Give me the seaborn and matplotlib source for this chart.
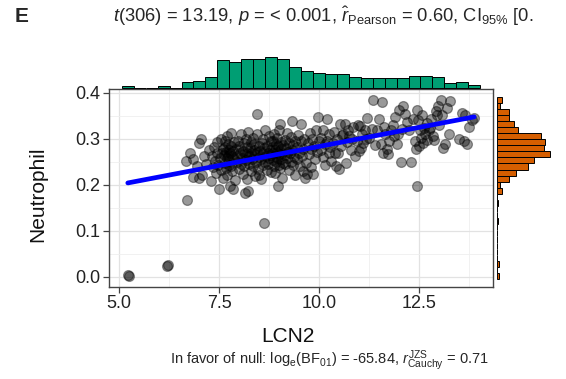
import numpy as np
import pandas as pd
import matplotlib
matplotlib.use("Agg")
import matplotlib.pyplot as plt
import seaborn as sns

# values, grouped roughly by x-bin
lcn2 = [
    5.22, 5.24,
    6.20, 6.22,
    6.68, 6.70,
    6.78, 6.84, 6.86, 6.95, 6.99, 7.00,
    7.05, 7.07, 7.12, 7.18, 7.24, 7.30,
    7.33, 7.35, 7.38, 7.40, 7.42, 7.44, 7.46, 7.48, 7.50, 7.52, 7.54, 7.56, 7.58, 7.60, 7.61,
    7.63, 7.64, 7.65, 7.66, 7.67, 7.68, 7.69, 7.70, 7.71, 7.72, 7.73, 7.74, 7.75, 7.76, 7.77,
    7.78, 7.79, 7.80, 7.81, 7.82, 7.83, 7.84, 7.86, 7.87, 7.88, 7.90,
    7.93, 7.95, 7.96, 7.98, 8.00, 8.01, 8.03, 8.04, 8.06, 8.07, 8.09, 8.10, 8.12, 8.13, 8.15,
    8.16, 8.17, 8.18, 8.19, 8.20, 8.21, 8.22,
    8.23, 8.24, 8.26, 8.27, 8.29, 8.30, 8.31, 8.33, 8.34, 8.36, 8.37, 8.38, 8.40, 8.41, 8.43,
    8.44, 8.45, 8.46, 8.48, 8.49, 8.50, 8.51,
    8.53, 8.54, 8.56, 8.57, 8.59, 8.60, 8.61, 8.62, 8.63, 8.65, 8.66, 8.68, 8.69, 8.70, 8.72,
    8.73, 8.75, 8.76, 8.77, 8.79, 8.80, 8.81,
    8.83, 8.84, 8.85, 8.86, 8.87, 8.88, 8.89, 8.90, 8.91, 8.92, 8.93, 8.94, 8.95, 8.96, 8.97,
    8.98, 8.99, 9.00, 9.01, 9.02, 9.03, 9.04, 9.05, 9.06, 9.07, 9.08, 9.10, 9.11,
    9.13, 9.14, 9.16, 9.18, 9.19, 9.21, 9.22, 9.24, 9.26, 9.27, 9.29, 9.30, 9.32, 9.33, 9.35,
    9.36, 9.38, 9.40, 9.41,
    9.44, 9.46, 9.48, 9.50, 9.52, 9.54, 9.56, 9.57, 9.59, 9.61, 9.63, 9.65, 9.68, 9.70,
    9.73, 9.75, 9.77, 9.79, 9.81, 9.83, 9.85, 9.87, 9.90, 9.93, 9.96, 9.97, 10.00,
    10.04, 10.06, 10.09, 10.11, 10.14, 10.16, 10.19, 10.21, 10.24, 10.26, 10.28, 10.30,
    10.34, 10.37, 10.40, 10.43, 10.45, 10.47, 10.50, 10.53, 10.56, 10.58, 10.60,
    10.64, 10.67, 10.70, 10.73, 10.76, 10.79, 10.82, 10.86, 10.90,
    10.94, 10.97, 11.00, 11.02, 11.05, 11.08, 11.11, 11.14, 11.17, 11.20,
    11.26, 11.32, 11.35, 11.40, 11.46, 11.50,
    11.54, 11.57, 11.60, 11.63, 11.66, 11.70, 11.73, 11.76, 11.80,
    11.84, 11.87, 11.90, 11.94, 11.98, 12.01, 12.04, 12.07, 12.10,
    12.15, 12.20, 12.25, 12.30, 12.35, 12.40,
    12.43, 12.45, 12.46, 12.48, 12.50, 12.52, 12.55, 12.58, 12.60, 12.63, 12.66, 12.69, 12.71,
    12.74, 12.77, 12.80, 12.84, 12.88, 12.92, 12.95, 12.98, 13.01,
    13.05, 13.07, 13.10, 13.15, 13.20, 13.25, 13.28,
    13.50, 13.58,
    13.63, 13.66, 13.70, 13.75, 13.82, 13.88,
]
neutrophil = [
    0.003, 0.002,
    0.024, 0.026,
    0.252, 0.166,
    0.270, 0.255, 0.216, 0.240, 0.290, 0.214,
    0.300, 0.222, 0.262, 0.246, 0.276, 0.209,
    0.262, 0.238, 0.281, 0.252, 0.225, 0.270, 0.292, 0.244, 0.190, 0.258, 0.300, 0.232, 0.268, 0.214, 0.278,
    0.265, 0.248, 0.282, 0.296, 0.236, 0.272, 0.258, 0.305, 0.221, 0.262, 0.288, 0.244, 0.276, 0.252, 0.198,
    0.268, 0.312, 0.240, 0.284, 0.230, 0.263, 0.190, 0.274, 0.256, 0.292, 0.210,
    0.278, 0.250, 0.262, 0.296, 0.234, 0.285, 0.270, 0.246, 0.310, 0.258, 0.224, 0.274, 0.290, 0.240, 0.183,
    0.266, 0.300, 0.254, 0.282, 0.212, 0.268, 0.186,
    0.315, 0.262, 0.245, 0.280, 0.292, 0.230, 0.270, 0.255, 0.302, 0.240, 0.276, 0.288, 0.218, 0.266, 0.250,
    0.310, 0.353, 0.272, 0.235, 0.284, 0.260, 0.222,
    0.274, 0.213, 0.256, 0.290, 0.242, 0.268, 0.300, 0.116, 0.280, 0.250, 0.318, 0.262, 0.232, 0.285, 0.270,
    0.246, 0.305, 0.258, 0.276, 0.228, 0.294, 0.264,
    0.282, 0.254, 0.296, 0.268, 0.240, 0.310, 0.275, 0.262, 0.226, 0.288, 0.250, 0.302, 0.272, 0.258, 0.198,
    0.284, 0.244, 0.318, 0.266, 0.331, 0.236, 0.278, 0.292, 0.256, 0.270, 0.214, 0.286, 0.248,
    0.264, 0.298, 0.246, 0.280, 0.312, 0.258, 0.272, 0.232, 0.290, 0.268, 0.250, 0.304, 0.338, 0.276, 0.242,
    0.286, 0.260, 0.222, 0.294,
    0.282, 0.256, 0.308, 0.270, 0.240, 0.294, 0.333, 0.262, 0.278, 0.230, 0.300, 0.215, 0.248, 0.224,
    0.290, 0.266, 0.312, 0.238, 0.278, 0.300, 0.224, 0.284, 0.256, 0.320, 0.272, 0.348, 0.296,
    0.276, 0.302, 0.260, 0.318, 0.288, 0.244, 0.342, 0.296, 0.270, 0.310, 0.282, 0.252,
    0.290, 0.314, 0.270, 0.240, 0.300, 0.268, 0.234, 0.333, 0.284, 0.308, 0.310,
    0.333, 0.247, 0.292, 0.318, 0.305, 0.276, 0.300, 0.326, 0.262,
    0.296, 0.330, 0.273, 0.327, 0.280, 0.310, 0.290, 0.318, 0.300, 0.344,
    0.302, 0.322, 0.385, 0.286, 0.320, 0.342,
    0.288, 0.380, 0.270, 0.326, 0.310, 0.277, 0.267, 0.296, 0.318,
    0.330, 0.305, 0.348, 0.288, 0.310, 0.362, 0.250, 0.322, 0.370,
    0.353, 0.336, 0.318, 0.250, 0.342, 0.296,
    0.277, 0.198, 0.363, 0.340, 0.284, 0.320, 0.302, 0.352, 0.290, 0.323, 0.310, 0.298, 0.335,
    0.318, 0.323, 0.342, 0.305, 0.298, 0.360, 0.352, 0.370, 0.330,
    0.385, 0.352, 0.280, 0.288, 0.366, 0.310, 0.381,
    0.300, 0.355,
    0.295, 0.352, 0.288, 0.326, 0.340, 0.345,
]

df = pd.DataFrame({"LCN2": lcn2, "Neutrophil": neutrophil})

sns.set_theme(style="white")
plt.rcParams["font.family"] = ["Liberation Sans", "DejaVu Sans"]
plt.rcParams["mathtext.fontset"] = "custom"
plt.rcParams["mathtext.rm"] = "Liberation Sans"
plt.rcParams["mathtext.it"] = "Liberation Sans:italic"
plt.rcParams["mathtext.bf"] = "Liberation Sans:bold"

W, H = 566, 379
fig = plt.figure(figsize=(W / 100, H / 100), dpi=100)
ax = fig.add_axes([109 / W, 1 - 287 / H, 384 / W, 198 / H])
ax_top = fig.add_axes([109 / W, 1 - 89 / H, 384 / W, 40 / H], sharex=ax)
ax_right = fig.add_axes([496 / W, 1 - 287 / H, 60 / W, 198 / H], sharey=ax)

# ggplot-style 30 bins
def gg_bins(v, n=30):
    v = np.asarray(v)
    w = (v.max() - v.min()) / (n - 1)
    return v.min() - w / 2 + w * np.arange(n + 1)

sns.histplot(x=df.LCN2, bins=gg_bins(df.LCN2), ax=ax_top, color="#009E73",
             edgecolor="black", linewidth=0.7, alpha=1)
sns.histplot(y=df.Neutrophil, bins=gg_bins(df.Neutrophil), ax=ax_right, color="#D55E00",
             edgecolor="black", linewidth=0.7, alpha=1)
ax_top.set_ylim(-0.4, 31)
ax_right.set_xlim(-0.6, 48)
ax_top.axis("off")
ax_right.axis("off")

sns.regplot(data=df, x="LCN2", y="Neutrophil", ax=ax, ci=None,
            scatter_kws=dict(s=50, color="black", alpha=0.4, edgecolor="black", linewidths=0.9),
            line_kws=dict(color="#0000FF", linewidth=3.4))

ax.set_xlim(4.75, 14.35)
ax.set_ylim(-0.022, 0.408)
ax.set_xticks([5, 7.5, 10, 12.5])
ax.set_xticks([6.25, 8.75, 11.25, 13.75], minor=True)
ax.set_yticks([0, 0.1, 0.2, 0.3, 0.4])
ax.set_yticks([0.05, 0.15, 0.25, 0.35], minor=True)
ax.set_xticklabels(["5.0", "7.5", "10.0", "12.5"])
ax.set_yticklabels(["0.0", "0.1", "0.2", "0.3", "0.4"])
ax.grid(which="major", color="#e2e2e2", linewidth=0.9)
ax.grid(which="minor", color="#efefef", linewidth=0.6)
ax.set_axisbelow(True)
for sp in ax.spines.values():
    sp.set_color("#444444")
    sp.set_linewidth(1.0)
ax.tick_params(axis="both", which="major", length=4, width=0.9, color="#444444",
               labelsize=13, labelcolor="#222222", bottom=True, left=True, pad=2)
ax.tick_params(axis="both", which="minor", length=0)

ax.set_xlabel("LCN2", fontsize=15, color="#111111")
ax.set_ylabel("Neutrophil", fontsize=15, color="#111111")
ax.xaxis.set_label_coords(0.465, -0.2)
ax.yaxis.set_label_coords(-0.16, 0.47)

fig.text(15 / W, 1 - 16 / H, "E", fontsize=15, fontweight="bold", ha="left", va="center")
title = (r"$\it{t}$(306) = 13.19, $\it{p}$ = < 0.001, $\hat{\it{r}}_{\mathrm{Pearson}}$ = 0.60, "
         r"CI$_{95\%}$ [0.")
fig.text(323 / W, 1 - 16 / H, title, fontsize=13.2, ha="center", va="center")
caption = (r"In favor of null: log$_{\mathrm{e}}$(BF$_{01}$) = -65.84, "
           r"$\it{r}_{\mathrm{Cauchy}}^{\mathrm{JZS}}$ = 0.71")
fig.text(329 / W, 1 - 361 / H, caption, fontsize=10.5, ha="center", va="center")

fig.savefig("out.png", dpi=100)
plt.close(fig)
